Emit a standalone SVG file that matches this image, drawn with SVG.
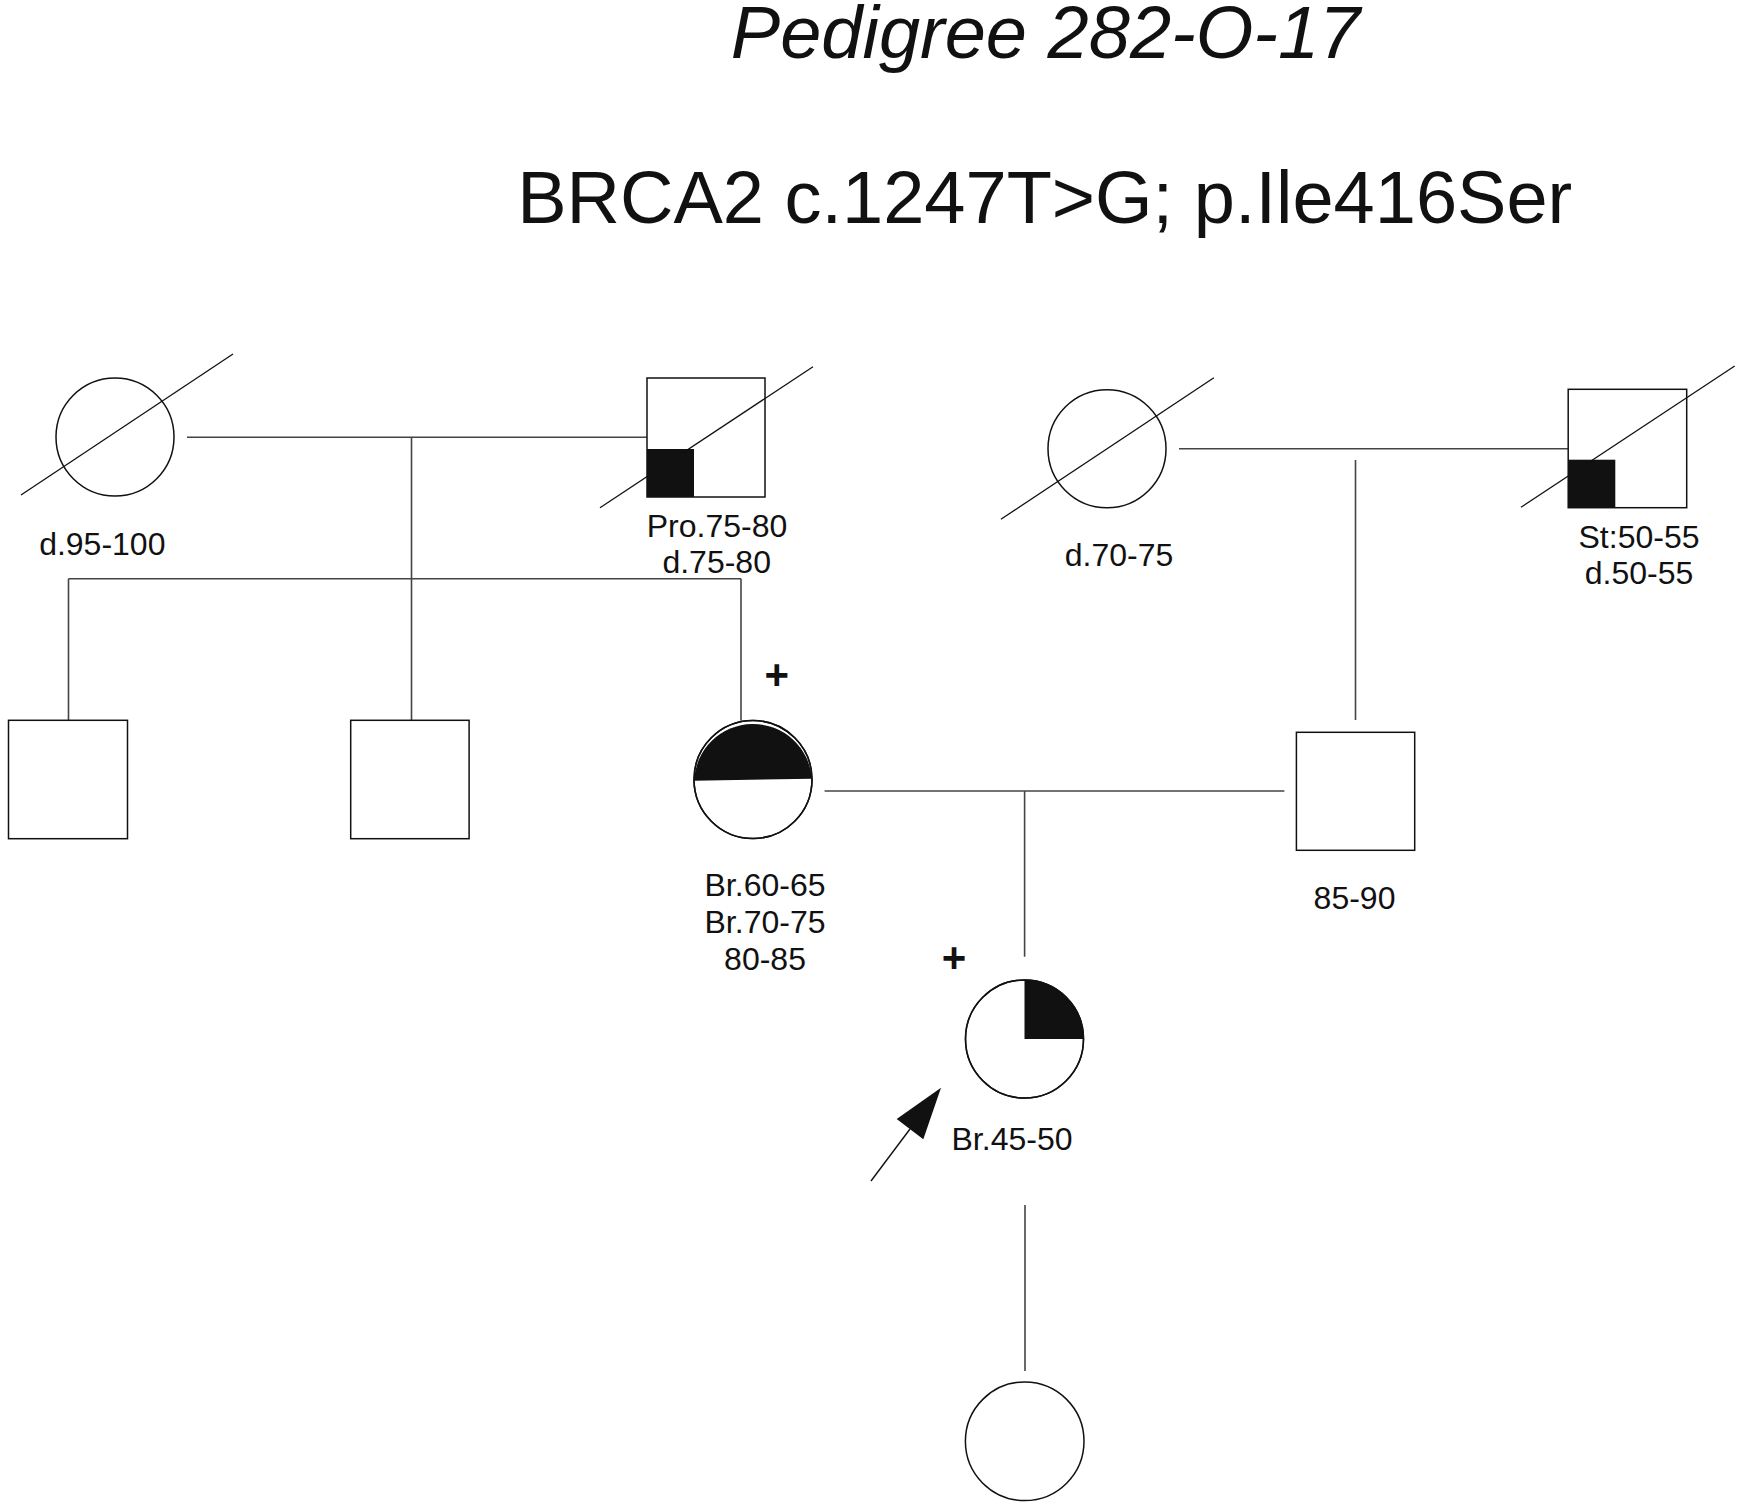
<svg xmlns="http://www.w3.org/2000/svg" width="1741" height="1509" viewBox="0 0 1741 1509">
<style>
.shape{fill:#fff;stroke:#111;stroke-width:1.5}
.fill{fill:#111;stroke:none}
.slash{stroke:#111;stroke-width:1.3;fill:none}
.conn{stroke:#444;stroke-width:1.6;fill:none}
.lbl{font-family:"Liberation Sans",Arial,sans-serif;font-size:32px;fill:#111;text-anchor:middle}
.plus{font-family:"Liberation Sans",Arial,sans-serif;font-size:42px;font-weight:bold;fill:#111;text-anchor:middle}
.title{font-family:"Liberation Sans",Arial,sans-serif;font-size:74px;fill:#111;text-anchor:middle}
</style>
<rect width="1741" height="1509" fill="#fff"/>
<text class="title" x="1045.5" y="58" font-style="italic">Pedigree 282-O-17</text>
<text class="title" x="1044.7" y="223.3">BRCA2 c.1247T&gt;G; p.Ile416Ser</text>

<g id="connectors">
<path class="conn" d="M187 437.3H647"/>
<path class="conn" d="M411.5 437.3V720.3"/>
<path class="conn" d="M68.5 578.7H741"/>
<path class="conn" d="M68.5 578.7V720.3"/>
<path class="conn" d="M741 578.7V720.5"/>
<path class="conn" d="M1179 448.7H1568.2"/>
<path class="conn" d="M1355.5 460V720"/>
<path class="conn" d="M824.6 791H1284.4"/>
<path class="conn" d="M1024.6 791V956.7"/>
<path class="conn" d="M1025 1205V1371"/>
</g>

<g id="gm1">
<circle class="shape" cx="115" cy="437" r="59"/>
<line class="slash" x1="21" y1="495" x2="233" y2="354"/>
<text class="lbl" x="102.3" y="555">d.95-100</text>
</g>

<g id="gf1">
<rect class="shape" x="647" y="378" width="118" height="119"/>
<rect class="fill" x="647" y="449" width="47" height="48"/>
<line class="slash" x1="600" y1="507.7" x2="813" y2="366.7"/>
<text class="lbl" x="717" y="536.7">Pro.75-80</text>
<text class="lbl" x="716.7" y="573.3">d.75-80</text>
</g>

<g id="gm2">
<circle class="shape" cx="1107" cy="448.7" r="59"/>
<line class="slash" x1="1000.9" y1="519.3" x2="1213.9" y2="377.7"/>
<text class="lbl" x="1119" y="566">d.70-75</text>
</g>

<g id="gf2">
<rect class="shape" x="1568.2" y="389.3" width="118.5" height="118.4"/>
<rect class="fill" x="1568.2" y="459.7" width="47.1" height="48"/>
<line class="slash" x1="1521" y1="507.3" x2="1734.7" y2="366"/>
<text class="lbl" x="1639" y="548.3">St:50-55</text>
<text class="lbl" x="1639" y="584">d.50-55</text>
</g>

<g id="son1">
<rect class="shape" x="8.5" y="720.3" width="119" height="118.4"/>
</g>

<g id="son2">
<rect class="shape" x="350.7" y="720.3" width="118.4" height="118.4"/>
</g>

<g id="mother">
<circle class="shape" cx="753" cy="779.5" r="59"/>
<path class="fill" d="M694.1 780.7A59 59 0 0 1 811.9 778.7Z"/>
<circle cx="753" cy="779.5" r="59" fill="none" stroke="#111" stroke-width="1.5"/>
<text class="plus" x="776.7" y="688.5">+</text>
<text class="lbl" x="765" y="895.7">Br.60-65</text>
<text class="lbl" x="765" y="932.7">Br.70-75</text>
<text class="lbl" x="765" y="970">80-85</text>
</g>

<g id="father">
<rect class="shape" x="1296.4" y="732.3" width="118.3" height="118"/>
<text class="lbl" x="1354.5" y="909.2">85-90</text>
</g>

<g id="proband">
<circle class="shape" cx="1024.5" cy="1039" r="59"/>
<path class="fill" d="M1024.5 1039V980A59 59 0 0 1 1083.5 1039Z"/>
<circle cx="1024.5" cy="1039" r="59" fill="none" stroke="#111" stroke-width="1.5"/>
<text class="plus" x="954" y="972">+</text>
<text class="lbl" x="1012" y="1150">Br.45-50</text>
<line x1="871" y1="1181" x2="910" y2="1129" stroke="#111" stroke-width="1.4"/>
<polygon points="941,1087.7 896.7,1119 923.3,1139.3" fill="#111"/>
</g>

<g id="daughter">
<circle class="shape" cx="1024.7" cy="1441.3" r="59.3"/>
</g>
</svg>
